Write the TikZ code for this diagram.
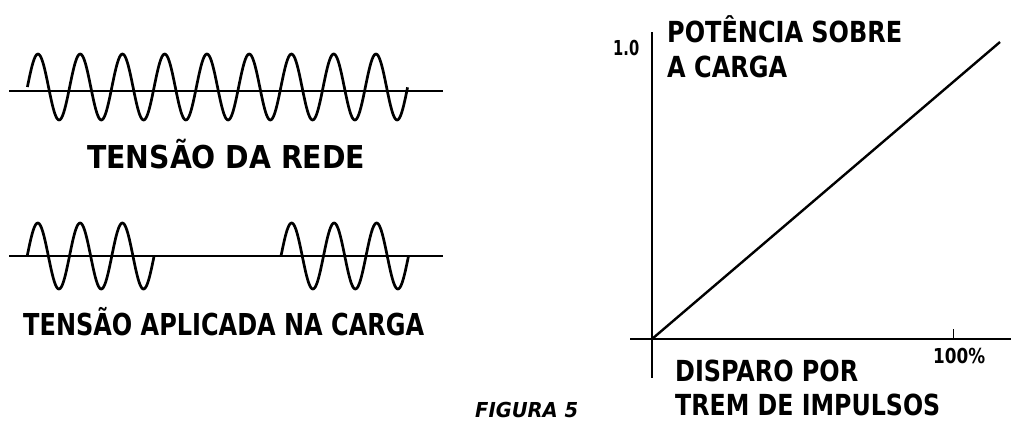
\documentclass[tikz,border=0pt]{standalone}
\usepackage{fontspec}
\usepackage{graphicx}
\setmainfont{DejaVu Sans Condensed}
\newcommand\fitw[2]{\resizebox{#1}{\height}{#2}}
\begin{document}
\begin{tikzpicture}[x=1pt,y=-1pt,
  wave/.style={line width=2.7pt, line join=round},
  axisline/.style={line width=2.8pt},
  tickline/.style={line width=1pt},
  lbl/.style={inner sep=0pt, anchor=base west},
  fa/.style={font=\bfseries\fontsize{31.5}{36}\selectfont},
  fb/.style={font=\bfseries\fontsize{30.2}{36}\selectfont},
  fc/.style={font=\bfseries\fontsize{29}{34}\selectfont},
  fd/.style={font=\bfseries\fontsize{20.6}{24}\selectfont},
  fe/.style={font=\bfseries\itshape\fontsize{20.6}{24}\selectfont}]
\useasboundingbox (0,0) rectangle (1011,421);

% top: mains voltage
\coordinate (ta) at (9,91);
\coordinate (tb) at (443,91);
\draw[wave] (ta) -- (tb);
\draw[wave] plot[domain=0:9, samples=400, smooth] ({27.4+42.25*\x},{87-33*sin(360*\x)});
\node[lbl,fa] (rede) at (87,168) {\fitw{278pt}{TENSÃO DA REDE}};

% bottom: voltage applied to the load
\coordinate (ba) at (9,256);
\coordinate (bb) at (443,256);
\draw[wave] (ba) -- (bb);
\draw[wave] plot[domain=0:3, samples=150, smooth] ({27.2+42.3*\x},{256-33*sin(360*\x)});
\draw[wave] plot[domain=0:3, samples=150, smooth] ({281+42.5*\x},{256-33*sin(360*\x)});
\node[lbl,fb] (aplic) at (23,335) {\fitw{401pt}{TENSÃO APLICADA NA CARGA}};

% graph
\coordinate (O) at (652,339);
\coordinate (ytop) at (652,32);
\coordinate (ybot) at (652,378);
\coordinate (xl) at (630,339);
\coordinate (xr) at (1011,339);
\coordinate (dend) at (1000,42);
\coordinate (tk) at (953,339);
\coordinate (tkt) at (953,329);
\draw[axisline] (ytop) -- (ybot);
\draw[axisline] (xl) -- (xr);
\draw[line width=2.4pt] (O) -- (dend);
\draw[tickline] (tk) -- (tkt);

\node[lbl,fc] (pot1) at (667,42) {\fitw{235pt}{POTÊNCIA SOBRE}};
\node[lbl,fc] (pot2) at (667,77) {\fitw{120pt}{A CARGA}};
\node[lbl,fd] (um) at (613,55) {\fitw{26pt}{1.0}};
\node[lbl,fd] (cem) at (933,363) {\fitw{52pt}{100\%}};
\node[lbl,fc] (disp1) at (675,381.5) {\fitw{183pt}{DISPARO POR}};
\node[lbl,fc] (disp2) at (675,415) {\fitw{265pt}{TREM DE IMPULSOS}};
\node[lbl,fe] (fig) at (475,417.5) {\fitw{103pt}{FIGURA 5}};
\end{tikzpicture}
\end{document}
